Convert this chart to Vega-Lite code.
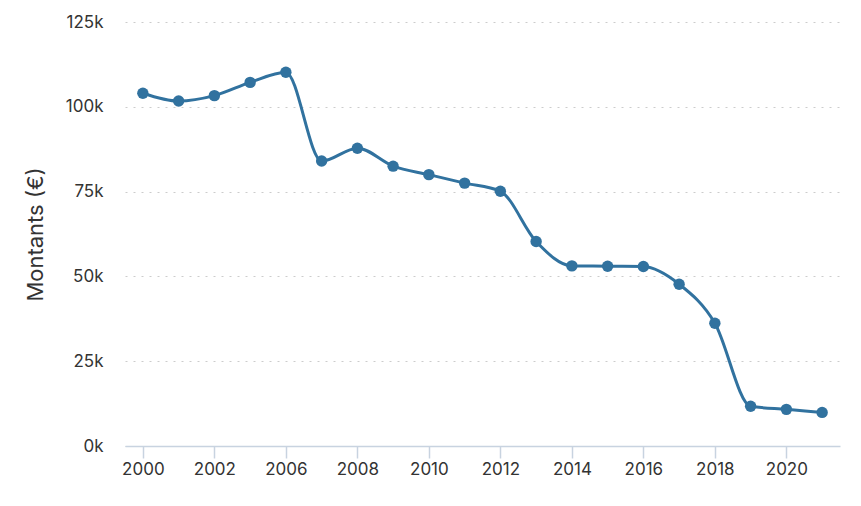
{
  "$schema": "https://vega.github.io/schema/vega-lite/v6.json",
  "autosize": {"type": "none"},
  "width": 715,
  "height": 424,
  "padding": {"left": 125, "top": 22, "right": 21, "bottom": 60},
  "background": "white",
  "config": {
    "view": {"stroke": null},
    "font": "Inter",
    "axis": {"labelFont": "Inter", "titleFont": "Inter", "labelColor": "#333333", "titleColor": "#333333"}
  },
  "data": {
    "values": [
      {"annee": "2000", "montant": 104000},
      {"annee": "2001", "montant": 101700},
      {"annee": "2002", "montant": 103300},
      {"annee": "2003", "montant": 107200},
      {"annee": "2006", "montant": 110200},
      {"annee": "2007", "montant": 84000},
      {"annee": "2008", "montant": 87800},
      {"annee": "2009", "montant": 82500},
      {"annee": "2010", "montant": 80000},
      {"annee": "2011", "montant": 77500},
      {"annee": "2012", "montant": 75100},
      {"annee": "2013", "montant": 60300},
      {"annee": "2014", "montant": 53100},
      {"annee": "2015", "montant": 53000},
      {"annee": "2016", "montant": 52900},
      {"annee": "2017", "montant": 47700},
      {"annee": "2018", "montant": 36200},
      {"annee": "2019", "montant": 11700},
      {"annee": "2020", "montant": 10800},
      {"annee": "2021", "montant": 9900}
    ]
  },
  "encoding": {
    "x": {
      "field": "annee",
      "type": "ordinal",
      "scale": {"type": "point", "padding": 0.5},
      "axis": {
        "title": null,
        "labelAngle": 0,
        "values": ["2000", "2002", "2006", "2008", "2010", "2012", "2014", "2016", "2018", "2020"],
        "labelFontSize": 17,
        "labelPadding": 3,
        "domainColor": "#c8d3e0",
        "domainWidth": 1.5,
        "tickColor": "#c8d3e0",
        "tickWidth": 1.5,
        "tickSize": 12,
        "grid": false
      }
    },
    "y": {
      "field": "montant",
      "type": "quantitative",
      "scale": {"domain": [0, 125000]},
      "axis": {
        "title": "Montants (€)",
        "values": [0, 25000, 50000, 75000, 100000, 125000],
        "labelExpr": "datum.value / 1000 + 'k'",
        "labelFontSize": 17,
        "labelPadding": 22,
        "titleFontSize": 22,
        "titleFontWeight": "normal",
        "titlePadding": 18,
        "domain": false,
        "ticks": false,
        "grid": true,
        "gridColor": "#cccccc",
        "gridDash": [2, 6],
        "gridWidth": 1
      }
    }
  },
  "layer": [
    {
      "mark": {"type": "line", "interpolate": "monotone", "color": "#31729f", "strokeWidth": 3}
    },
    {
      "mark": {"type": "point", "filled": true, "color": "#31729f", "opacity": 1, "size": 130}
    }
  ]
}
